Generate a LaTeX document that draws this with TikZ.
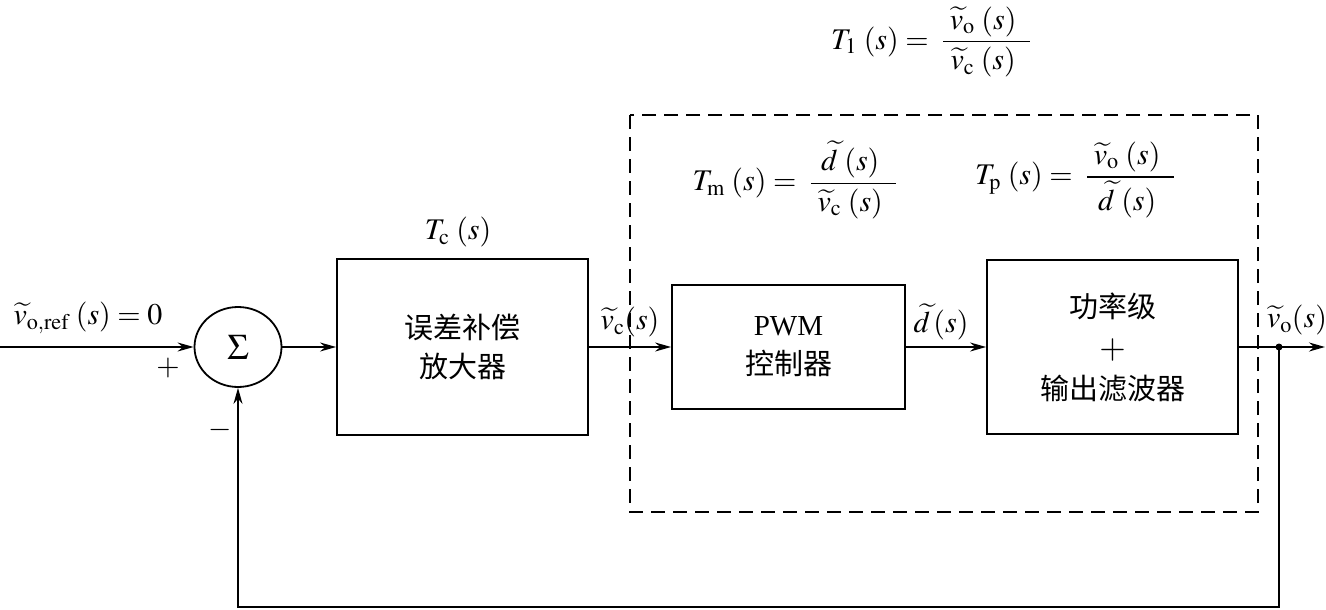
\documentclass[tikz,border=0pt]{standalone}
\usepackage{amsmath}
\usepackage{mathptmx}
\usepackage{fontspec}
\setmainfont{Liberation Serif}
\newfontfamily\cjk{Noto Sans CJK SC}
\usetikzlibrary{arrows.meta,shapes.geometric}
\begin{document}
\begin{tikzpicture}[x=1pt,y=-1pt, line width=1.8pt,
  blk/.style={draw, inner sep=0pt, align=center, font=\cjk\fontsize{29}{39}\selectfont},
  arr/.style={-{Stealth[length=16pt,width=9pt]}},
  lbl/.style={inner sep=0pt, font=\fontsize{30}{34}\selectfont},
  frame/.style={line width=1.4pt, dash pattern=on 14pt off 8pt}
]
\useasboundingbox (0,0) rectangle (1326,610);
% summing junction
\node[draw, ellipse, minimum width=87pt, minimum height=80pt, inner sep=0pt,
      font=\fontsize{36}{40}\selectfont] (sum) at (238,347) {$\Sigma$};
% blocks
\node[blk, minimum width=251pt, minimum height=176pt] (c) at (462.5,347) {误差补偿\\放大器};
\node[blk, minimum width=233pt, minimum height=124pt] (m) at (788.5,347) {{\fontspec{Liberation Serif}PWM}\\控制器};
\node[blk, minimum width=251pt, minimum height=174pt, font=\cjk\fontsize{29}{41}\selectfont] (p) at (1112.5,347) {功率级\\{\fontsize{34}{41}\selectfont$+$}\\输出滤波器};
% dashed frame
\draw[frame] (630,115) rectangle (1258,512);
% coordinates
\coordinate (in) at (0,347);
\coordinate (tap) at (1279,347);
\coordinate (out) at (1325,347);
\coordinate (fb) at (1279,607);
% connectors
\draw[arr] (in) -- (sum.west);
\draw[arr] (sum.east) -- (c.west);
\draw[arr] (c.east) -- (m.west);
\draw[arr] (m.east) -- (p.west);
\draw[arr] (p.east) -- (out);
\fill (tap) circle (3.5pt);
\draw[arr] (tap) -- (fb) -| (sum.south);
% labels
\node[lbl] (lref) at (88,318) {$\widetilde{v}_{\mathrm{o,ref}}\;(s) = 0$};
\node[lbl] (lplus) at (168,368) {$+$};
\node[lbl] (lminus) at (220,430) {$\boldsymbol{-}$};
\node[lbl] (ltc) at (458,232) {$T_{\mathrm{c}}\;(s)$};
\node[lbl] (lvc) at (630,322) {$\widetilde{v}_{\mathrm{c}}(s)$};
\node[lbl] (ld) at (941,322) {$\widetilde{d}\,(s)$};
\node[lbl] (lvo) at (1297,320) {$\widetilde{v}_{\mathrm{o}}(s)$};
\node[lbl] (ltm) at (795,180) {$T_{\mathrm{m}}\;(s) =\; \dfrac{\;\widetilde{d}\;(s)\;\;}{\;\widetilde{v}_{\mathrm{c}}\;(s)\;\;}$};
\node[lbl] (ltp) at (1075,180) {$T_{\mathrm{p}}\;(s) =\; \dfrac{\;\widetilde{v}_{\mathrm{o}}\;(s)\;\;}{\;\widetilde{d}\;(s)\;\;}$};
\node[lbl] (lt1) at (931,42) {$T_1\;(s) =\; \dfrac{\;\widetilde{v}_{\mathrm{o}}\;(s)\;\;}{\;\widetilde{v}_{\mathrm{c}}\;(s)\;\;}$};
\end{tikzpicture}
\end{document}
